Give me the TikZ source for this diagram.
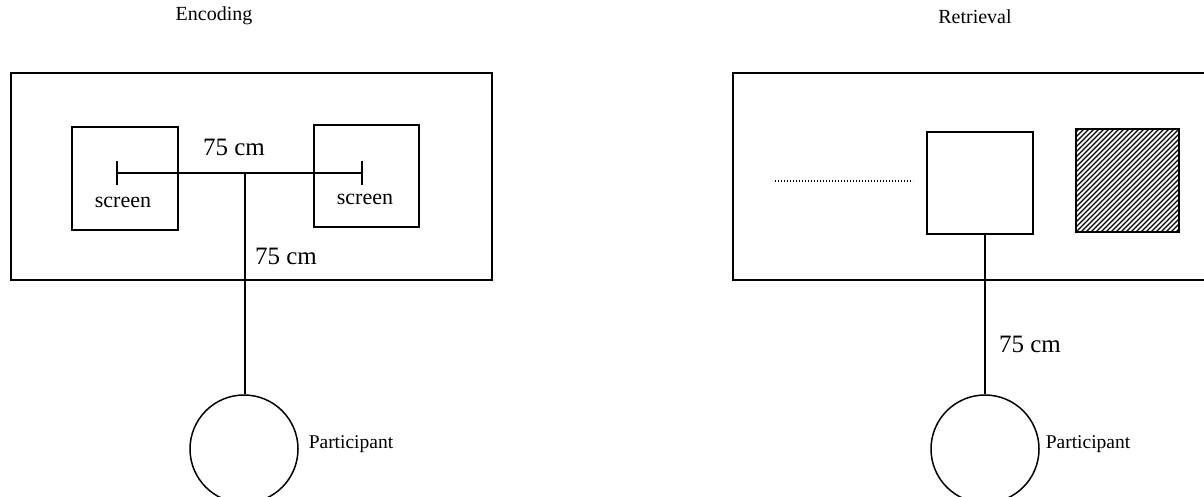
\documentclass[tikz,border=0pt]{standalone}
\usepackage{fontspec}
\setmainfont{Liberation Serif}
\begin{document}
\begin{tikzpicture}[x=1pt,y=-1pt,
  line width=1.5pt,
  box/.style={draw, rectangle, inner sep=0pt},
  person/.style={draw, circle, inner sep=0pt, minimum size=108pt},
  lbl/.style={inner sep=0pt, anchor=base, font=\fontsize{25}{28}\selectfont},
  small/.style={inner sep=0pt, anchor=base, font=\fontsize{22}{25}\selectfont},
  ttl/.style={inner sep=0pt, font=\fontsize{20}{23}\selectfont},
  plbl/.style={inner sep=0pt, anchor=base west, font=\fontsize{19.5}{22}\selectfont}]
\useasboundingbox (0,0) rectangle (1204,496);
% ---------- Encoding ----------
\node[ttl] (enc) at (214,16) {Encoding};
\node[box, minimum width=481pt, minimum height=207pt] (roomL) at (251.5,176.5) {};
\node[box, minimum width=106pt, minimum height=103pt] (scrL) at (125,178.5) {};
\node[box, minimum width=105pt, minimum height=102pt] (scrR) at (366.5,176) {};
\coordinate (tl) at (117,173);
\coordinate (tr) at (362,173);
\coordinate (mid) at (245,173);
\draw (tl) -- (tr);
\draw ([yshift=-12pt]tl) -- ([yshift=12pt]tl);
\draw ([yshift=-12pt]tr) -- ([yshift=12pt]tr);
\node[person] (pL) at (244,449) {};
\draw (mid) -- (mid |- pL.north);
\node[lbl] (d1) at (234,155) {75 cm};
\node[lbl] (d2) at (286,264) {75 cm};
\node[small] (s1) at (123,207) {screen};
\node[small] (s2) at (365,204) {screen};
\node[plbl] (partL) at (308,448) {Participant};
% ---------- Retrieval ----------
\node[ttl] (ret) at (975,17) {Retrieval};
\draw (1210,73) -- (733,73) -- (733,280) -- (1210,280);
\coordinate (dotA) at (775,181);
\coordinate (dotB) at (913,181);
\draw[line width=1.2pt, dash pattern=on 1.2pt off 1.8pt] (dotA) -- (dotB);
\node[box, minimum width=106pt, minimum height=102pt] (cen) at (980,183) {};
\node[box, minimum width=103pt, minimum height=103pt] (hat) at (1127.5,180.5) {};
\begin{scope}
  \clip (hat.south west) rectangle (hat.north east);
  \foreach \k in {-120,-115,...,120}
    \draw[line width=1.1pt] (1127.5+\k-60,180.5+60) -- (1127.5+\k+60,180.5-60);
\end{scope}
\node[box, minimum width=103pt, minimum height=103pt] at (hat) {};
\node[person] (pR) at (985,449) {};
\draw (cen.south -| pR.north) -- (pR.north);
\node[lbl] (d3) at (1030,352) {75 cm};
\node[plbl] (partR) at (1045,448) {Participant};
\end{tikzpicture}
\end{document}
